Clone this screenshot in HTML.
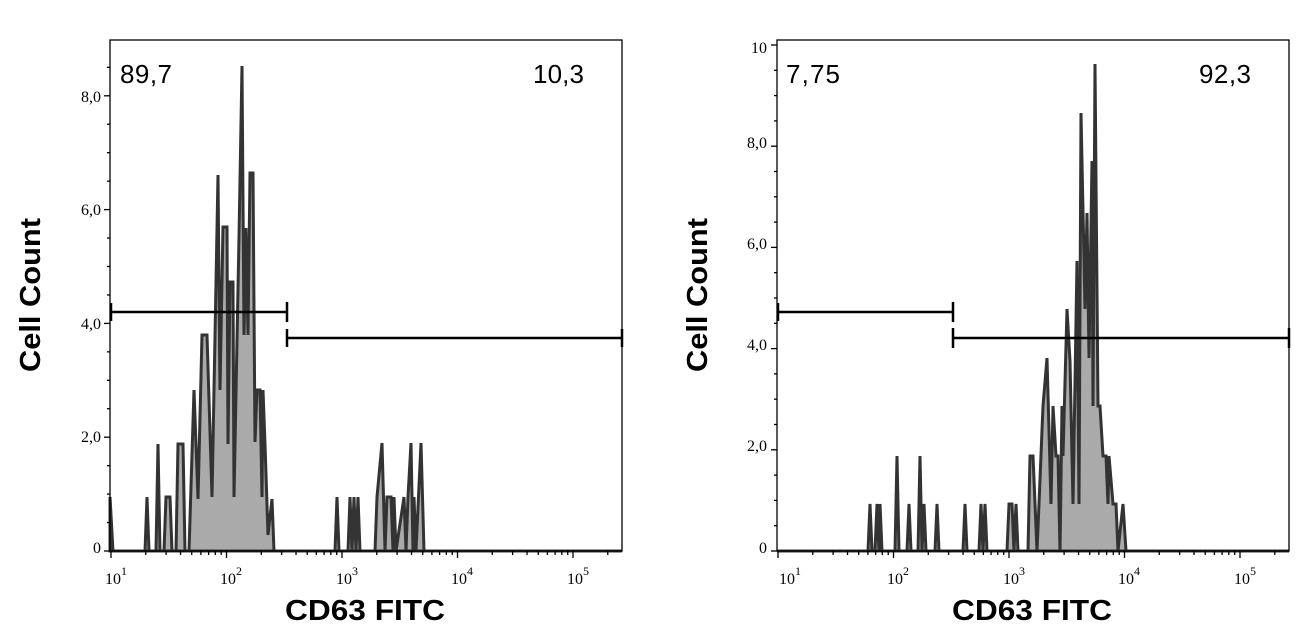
<!DOCTYPE html>
<html><head><meta charset="utf-8"><style>
html,body{margin:0;padding:0;background:#fff;}
svg{display:block;}
.tl{font-family:"Liberation Serif",serif;font-size:16px;fill:#000;}
.pc{font-family:"Liberation Sans",sans-serif;font-size:26px;fill:#000;}
.ti{font-family:"Liberation Sans",sans-serif;font-size:29px;font-weight:bold;fill:#000;}
</style></head><body>
<svg width="1310" height="641" viewBox="0 0 1310 641" xmlns="http://www.w3.org/2000/svg">
<rect width="1310" height="641" fill="#fff"/>

<path d="M110,551 L110,497 L113,551 L145,551 L147,497 L149,551 L156,551 L158,444 L160,551 L164,551 L166,497 L170,497 L172,551 L176,551 L178,444 L183,444 L185,551 L189,551 L194,390 L198,499 L202,335 L207,335 L212,497 L214,390 L218,175 L220,390 L223,227 L227,227 L228,444 L230,282 L233,282 L234,497 L239,237 L242,66 L244,335 L246,228 L248,335 L250,173 L253,173 L255,442 L257,390 L260,390 L262,497 L263,390 L265,444 L268,535 L272,499 L274,551 L335,551 L337,497 L339,551 L348,551 L350,497 L352,551 L354,497 L356,551 L358,497 L360,551 L375,551 L377,497 L382,443 L385,551 L387,497 L391,497 L393,551 L394,497 L396,551 L404,497 L406,551 L408,497 L411,443 L413,551 L414,497 L416,551 L421,443 L424,551 L622,551 Z" fill="#aaaaaa" stroke="#333" stroke-width="3"/>
<rect x="110" y="40" width="512" height="511" fill="none" stroke="#000" stroke-width="1.3"/>
<g stroke="#000" stroke-width="2.5">
<line x1="110" y1="312" x2="287" y2="312"/><line x1="287" y1="302" x2="287" y2="322"/><line x1="111" y1="303" x2="111" y2="321"/>
<line x1="287" y1="338" x2="622" y2="338"/><line x1="287" y1="329" x2="287" y2="347"/><line x1="622" y1="329" x2="622" y2="347"/>
</g>
<text class="pc" x="120" y="83" textLength="52">89,7</text>
<text class="pc" x="533" y="83" textLength="51">10,3</text>

<path d="M777,551 L868,551 L870,504 L872,551 L875,551 L877,504 L879,551 L880,504 L882,551 L895,551 L897,456 L899,551 L907,551 L909,504 L911,551 L918,551 L920,456 L922,551 L924,504 L926,551 L935,551 L937,504 L939,551 L963,551 L965,504 L967,551 L979,551 L981,504 L983,551 L985,504 L987,551 L1007,551 L1009,504 L1012,504 L1014,551 L1016,504 L1018,551 L1028,551 L1030,456 L1033,456 L1037,551 L1039,504 L1043,406 L1047,358 L1051,504 L1053,406 L1056,456 L1058,456 L1060,551 L1062,406 L1063,456 L1067,309 L1070,361 L1073,504 L1077,261 L1079,504 L1081,113 L1085,309 L1087,213 L1089,358 L1092,161 L1093,406 L1095,64 L1098,406 L1100,406 L1103,456 L1106,456 L1108,504 L1109,456 L1113,504 L1116,504 L1118,551 L1123,504 L1126,551 L1289,551 Z" fill="#aaaaaa" stroke="#333" stroke-width="3"/>
<rect x="777" y="40" width="512" height="511" fill="none" stroke="#000" stroke-width="1.3"/>
<g stroke="#000" stroke-width="2.5">
<line x1="777" y1="312" x2="953" y2="312"/><line x1="953" y1="302" x2="953" y2="322"/><line x1="778" y1="303" x2="778" y2="321"/>
<line x1="953" y1="338" x2="1289" y2="338"/><line x1="953" y1="328" x2="953" y2="348"/><line x1="1289" y1="328" x2="1289" y2="348"/>
</g>
<text class="pc" x="786" y="83" textLength="54">7,75</text>
<text class="pc" x="1199" y="83" textLength="52">92,3</text>

<g id="ticks" stroke="#000" stroke-width="1.3"></g>

<text class="tl" x="101" y="553" text-anchor="end">0</text>
<text class="tl" x="101" y="442" text-anchor="end">2,0</text>
<text class="tl" x="101" y="329" text-anchor="end">4,0</text>
<text class="tl" x="101" y="215" text-anchor="end">6,0</text>
<text class="tl" x="101" y="102" text-anchor="end">8,0</text>

<text class="tl" x="767" y="553" text-anchor="end">0</text>
<text class="tl" x="767" y="451" text-anchor="end">2,0</text>
<text class="tl" x="767" y="350" text-anchor="end">4,0</text>
<text class="tl" x="767" y="249" text-anchor="end">6,0</text>
<text class="tl" x="767" y="148" text-anchor="end">8,0</text>
<text class="tl" x="767" y="53" text-anchor="end">10</text>

<g class="tl">
<text x="105" y="584">10<tspan dy="-9" font-size="12">1</tspan></text>
<text x="220" y="584">10<tspan dy="-9" font-size="12">2</tspan></text>
<text x="336" y="584">10<tspan dy="-9" font-size="12">3</tspan></text>
<text x="451" y="584">10<tspan dy="-9" font-size="12">4</tspan></text>
<text x="567" y="584">10<tspan dy="-9" font-size="12">5</tspan></text>
<text x="779" y="584">10<tspan dy="-9" font-size="12">1</tspan></text>
<text x="887" y="584">10<tspan dy="-9" font-size="12">2</tspan></text>
<text x="1003" y="584">10<tspan dy="-9" font-size="12">3</tspan></text>
<text x="1118" y="584">10<tspan dy="-9" font-size="12">4</tspan></text>
<text x="1234" y="584">10<tspan dy="-9" font-size="12">5</tspan></text>
</g>

<text class="ti" x="285" y="620" textLength="160" lengthAdjust="spacingAndGlyphs">CD63 FITC</text>
<text class="ti" x="952" y="620" textLength="160" lengthAdjust="spacingAndGlyphs">CD63 FITC</text>
<text class="ti" transform="translate(40,372) rotate(-90)" textLength="154" lengthAdjust="spacingAndGlyphs">Cell Count</text>
<text class="ti" transform="translate(707,372) rotate(-90)" textLength="154" lengthAdjust="spacingAndGlyphs">Cell Count</text>
</svg>
<script>
(function(){
var g=document.getElementById('ticks'),s='';
function L(a,b,c,d){s+='<line x1="'+a+'" y1="'+b+'" x2="'+c+'" y2="'+d+'"/>';}
[111,778].forEach(function(x0){
 var dec=115.5;
 for(var d=0;d<5;d++){
  var bx=x0+d*dec; L(bx,551,bx,558);
  for(var m=2;m<10;m++){var x=bx+Math.log10(m)*dec; if(x<x0+510) L(x,551,x,555);}
 }
});
for(var v=0;v<=9;v+=0.5){var y=551-v*56.9; if(y<40)break; var maj=(v%2===0); L(110-(maj?6:3),y,110,y);}
for(var v=0;v<=10;v+=0.5){var y=551-v*50.6; if(y<40)break; var maj=(v%2===0); L(777-(maj?6:3),y,777,y);}
g.innerHTML=s;
})();
</script>
</body></html>
